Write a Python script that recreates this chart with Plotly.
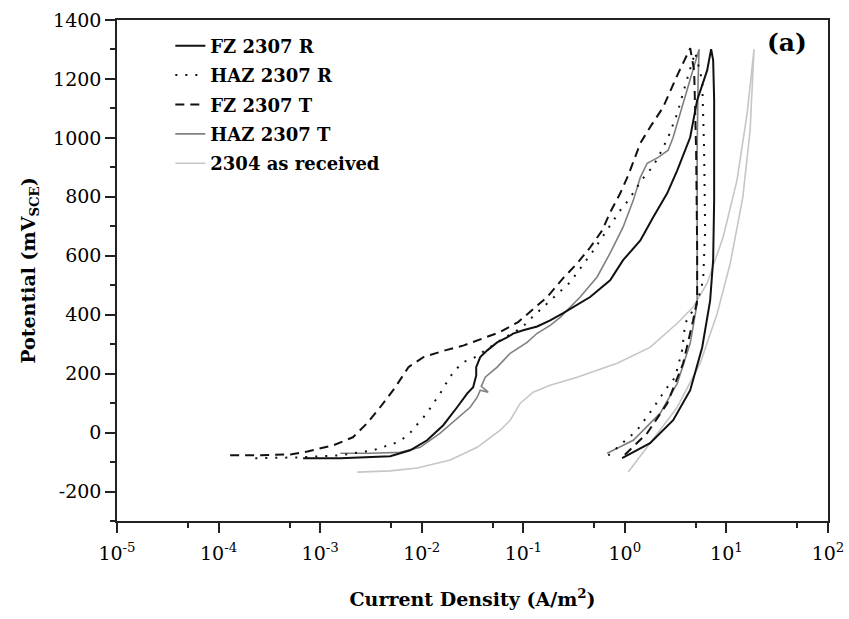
import plotly.graph_objects as go

# ---- data (current density in A/m^2, potential in mV vs SCE) ----
x_fz_r = [6.8e-4, 1.58e-3, 4.9e-3, 7.7e-3, 1.13e-2, 1.63e-2, 2.23e-2, 2.81e-2, 3.21e-2, 3.44e-2,
          3.44e-2, 3.77e-2, 4.42e-2, 5.53e-2, 6.93e-2, 7.94e-2, 9.97e-2, 0.137, 0.184, 0.247,
          0.455, 0.716, 0.96, 1.42, 1.90, 2.61, 3.28, 4.40, 5.15, 6.46,
          7.07, 7.40, 7.57, 7.57, 7.40, 6.91, 5.77, 4.40, 2.99, 1.77, 0.94]
y_fz_r = [-87, -87, -80, -60, -26, 25, 86, 133, 154, 194,
          222, 256, 279, 306, 323, 336, 347, 360, 381, 405,
          460, 517, 585, 652, 731, 812, 890, 1002, 1128, 1229,
          1301, 1264, 1128, 788, 585, 448, 289, 144, 42, -36, -87]

x_haz_r = [2.30e-4, 6.37e-4, 1.58e-3, 3.33e-3, 5.74e-3, 7.36e-3, 9.25e-3, 1.13e-2, 1.30e-2, 1.52e-2,
           1.74e-2, 2.04e-2, 2.56e-2, 3.36e-2, 5.93e-2, 9.75e-2, 0.122, 0.184, 0.289, 0.477,
           0.670, 0.90, 1.08, 1.51, 1.86, 2.13, 2.67, 3.28, 3.93, 4.92,
           5.77, 6.03, 6.17, 5.90, 5.15, 3.93, 3.66, 3.13, 2.49, 1.90, 1.32, 0.84, 0.64]
y_haz_r = [-87, -84, -77, -60, -33, -9, 32, 66, 99, 133,
           167, 205, 239, 256, 313, 357, 391, 449, 510, 612,
           686, 754, 788, 863, 900, 934, 1002, 1083, 1178, 1290,
           1195, 958, 686, 517, 439, 371, 279, 188, 144, 83, 8, -53, -87]

x_fz_t = [1.3e-4, 2.6e-4, 5.1e-4, 7.5e-4, 1.35e-3, 2.1e-3, 2.9e-3, 3.9e-3, 5.5e-3, 7.4e-3,
          1.04e-2, 1.7e-2, 2.6e-2, 3.9e-2, 5.9e-2, 8.9e-2, 0.125, 0.172, 0.247, 0.339,
          0.455, 0.598, 0.716, 0.90, 1.08, 1.42, 1.77, 2.38, 3.35, 4.40,
          4.81, 5.03, 5.15, 5.15, 4.70, 3.75, 2.61, 1.66, 0.94]
y_fz_t = [-77, -77, -74, -64, -43, -16, 32, 86, 154, 222,
          256, 279, 296, 317, 341, 375, 419, 460, 524, 574,
          628, 686, 747, 812, 873, 982, 1036, 1104, 1219, 1304,
          1229, 958, 618, 448, 381, 235, 99, -2, -84]

x_haz_t = [1.58e-3, 3.11e-3, 6.14e-3, 9.66e-3, 1.52e-2, 2.39e-2, 3.00e-2, 3.52e-2, 3.77e-2, 4.51e-2,
           3.86e-2, 4.22e-2, 5.53e-2, 7.43e-2, 0.109, 0.137, 0.184, 0.231, 0.363, 0.533,
           0.716, 0.96, 1.21, 1.42, 1.66, 2.13, 2.67, 2.99, 3.75, 4.70,
           5.38, 5.26, 5.15, 5.15, 5.15, 4.40, 3.28, 2.23, 1.21, 0.67]
y_haz_t = [-70, -70, -67, -50, -2, 55, 86, 120, 144, 137,
           157, 188, 222, 269, 306, 337, 364, 391, 460, 528,
           609, 697, 788, 866, 914, 934, 958, 1002, 1117, 1229,
           1301, 1195, 958, 618, 439, 303, 167, 66, -26, -70]

x_2304 = [2.32e-3, 4.90e-3, 9.04e-3, 1.91e-2, 3.52e-2, 5.93e-2, 7.43e-2, 9.31e-2, 0.125, 0.184,
          0.339, 0.84, 1.77, 3.28, 4.70, 6.46, 9.27, 12.7, 16.0, 18.7,
          17.1, 14.5, 10.9, 8.11, 5.51, 3.28, 1.77, 1.08]
y_2304 = [-134, -130, -120, -93, -50, 8, 42, 99, 137, 161,
          188, 235, 289, 371, 426, 507, 663, 856, 1083, 1301,
          1026, 798, 574, 404, 235, 86, -36, -134]

x_tick_vals = [1e-5, 1e-4, 1e-3, 1e-2, 1e-1, 1e0, 1e1, 1e2]
x_tick_text = ['10<sup>-5</sup>', '10<sup>-4</sup>', '10<sup>-3</sup>', '10<sup>-2</sup>',
               '10<sup>-1</sup>', '10<sup>0</sup>', '10<sup>1</sup>', '10<sup>2</sup>']
x_minor_vals = [5e-5, 5e-4, 5e-3, 5e-2, 5e-1, 5e0, 5e1]
y_tick_vals = [-200, 0, 200, 400, 600, 800, 1000, 1200, 1400]
y_tick_text = ['-200', '0', '200', '400', '600', '800', '1000', '1200', '1400']

FONT = 'DejaVu Serif'

fig = go.Figure()


def add(x, y, name, color, width, dash, rank):
    fig.add_trace(go.Scatter(
        x=x, y=y, mode='lines', name=name, legendgroup=name, legendrank=rank,
        line=dict(color=color, width=width, dash=dash)))


add(x_2304, y_2304, '2304 as received', '#c6c6c6', 1.6, 'solid', 5)
add(x_haz_t, y_haz_t, 'HAZ 2307 T', '#808080', 1.6, 'solid', 4)
add(x_fz_t, y_fz_t, 'FZ 2307 T', '#111111', 2, '9px,6px', 3)
add(x_haz_r, y_haz_r, 'HAZ 2307 R', '#111111', 2, '2px,8px', 2)
add(x_fz_r, y_fz_r, 'FZ 2307 R', '#111111', 2, 'solid', 1)

axis_common = dict(showline=True, linecolor='#222222', linewidth=1.5, mirror=True,
                   showgrid=False, zeroline=False, ticks='outside', tickwidth=1.5,
                   tickcolor='#222222', ticklen=10, automargin=False,
                   tickfont=dict(family=FONT, size=19, color='black'))

fig.update_xaxes(type='log', range=[-5, 2], tickmode='array', tickvals=x_tick_vals,
                 ticktext=x_tick_text, ticklabelstandoff=4,
                 minor=dict(tickmode='array', tickvals=x_minor_vals, ticks='outside',
                            ticklen=5, tickwidth=1.5, tickcolor='#222222', showgrid=False),
                 title=dict(text='<b>Current Density (A/m<sup>2</sup>)</b>',
                            font=dict(family=FONT, size=19, color='black'), standoff=30),
                 **axis_common)
fig.update_yaxes(range=[-300, 1400], tickmode='array', tickvals=y_tick_vals,
                 ticktext=y_tick_text,
                 minor=dict(dtick=100, tick0=0, ticks='outside', ticklen=5, tickwidth=1.5,
                            tickcolor='#222222', showgrid=False),
                 title=dict(text='<b>Potential (mV<sub>SCE</sub>)</b>',
                            font=dict(family=FONT, size=19, color='black'), standoff=12),
                 **axis_common)

fig.add_annotation(text='<b>(a)</b>', xref='paper', yref='paper', x=0.942, y=0.955,
                   xanchor='center', yanchor='middle',
                   showarrow=False, font=dict(family=FONT, size=25, color='black'))

fig.update_layout(
    width=849, height=619,
    margin=dict(l=117, r=21, t=20, b=98),
    plot_bgcolor='white', paper_bgcolor='white',
    font=dict(family=FONT, color='black'),
    legend=dict(x=0.075, y=0.985, xanchor='left', yanchor='top',
                bgcolor='rgba(0,0,0,0)', traceorder='grouped', tracegroupgap=3,
                font=dict(family=FONT, size=18, color='black', weight='bold')),
)

fig.write_html('out.html')
